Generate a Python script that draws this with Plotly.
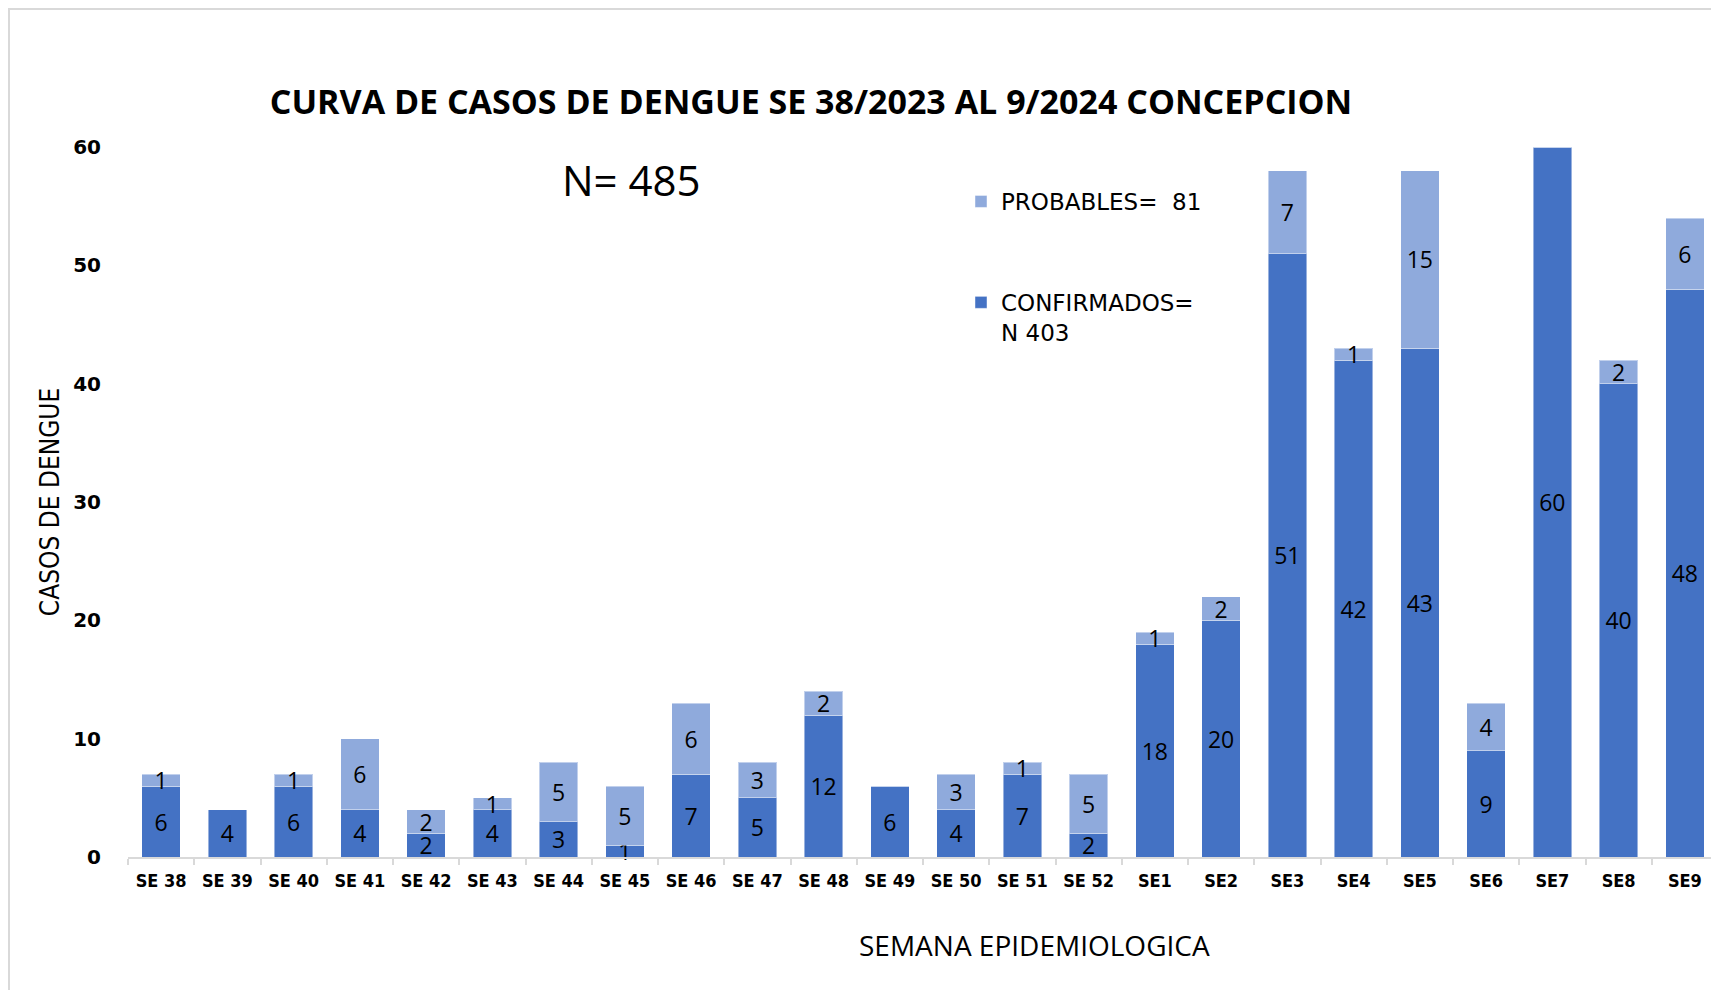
import plotly.graph_objects as go

semanas = ["SE 38", "SE 39", "SE 40", "SE 41", "SE 42", "SE 43", "SE 44", "SE 45",
           "SE 46", "SE 47", "SE 48", "SE 49", "SE 50", "SE 51", "SE 52",
           "SE1", "SE2", "SE3", "SE4", "SE5", "SE6", "SE7", "SE8", "SE9"]
confirmados = [6, 4, 6, 4, 2, 4, 3, 1, 7, 5, 12, 6, 4, 7, 2,
               18, 20, 51, 42, 43, 9, 60, 40, 48]
probables = [1, 0, 1, 6, 2, 1, 5, 5, 6, 3, 2, 0, 3, 1, 5,
             1, 2, 7, 1, 15, 4, 0, 2, 6]

titulo = "CURVA DE CASOS DE DENGUE SE 38/2023 AL 9/2024 CONCEPCION"
nombre_conf = "CONFIRMADOS=<br>N 403"
nombre_prob = "PROBABLES=  81"
total_txt = "N= 485"
titulo_x = "SEMANA EPIDEMIOLOGICA"
titulo_y = "CASOS DE DENGUE"

# page has an 8px body margin: figure drawn at (8, 8)
OFF = 8
W, H = 1719 - OFF, 990 - OFF
PL, PR, PT, PB = 128, 1718, 147, 857   # plot box in reference pixels
L, T = PL - OFF, PT - OFF
R, B = W - (PR - OFF), H - (PB - OFF)
pw, ph = PR - PL, PB - PT

def px_x(x):
    return (x - PL) / pw

def px_y(y):
    return (PB - y) / ph

COND = "DejaVu Sans Condensed, Open Sans, sans-serif"
label_font = dict(family="Open Sans", size=23, color="black")

fig = go.Figure()
fig.add_trace(go.Bar(
    x=semanas, y=confirmados, name=nombre_conf, legendrank=2, cliponaxis=False,
    marker=dict(color="#4472C4", line=dict(color="rgba(255,255,255,0.45)", width=1)),
    text=[str(v) if v else "" for v in confirmados],
    textposition="inside", insidetextanchor="middle", textangle=0,
    textfont=label_font, legendgroup="c",
))
fig.add_trace(go.Bar(
    x=semanas, y=probables, name=nombre_prob, legendrank=1, cliponaxis=False,
    marker=dict(color="#8FAADC", line=dict(color="rgba(255,255,255,0.45)", width=1)),
    text=[str(v) if v else "" for v in probables],
    textposition="inside", insidetextanchor="middle", textangle=0,
    textfont=label_font, legendgroup="p",
))

fig.update_layout(
    width=W, height=H,
    margin=dict(l=L, r=R, t=T, b=B),
    barmode="stack", bargap=0.42,
    plot_bgcolor="white", paper_bgcolor="white",
    uniformtext=dict(minsize=23, mode="show"),
    title=dict(text="<b>" + titulo + "</b>", x=(811 - OFF) / W, xanchor="center",
               y=1 - (102 - OFF) / H, yanchor="middle", yref="container",
               font=dict(family="Open Sans", size=34, color="black")),
    showlegend=True,
    legend=dict(x=px_x(961), y=px_y(180), xanchor="left", yanchor="top",
                traceorder="grouped", tracegroupgap=68, valign="top",
                itemwidth=30, bgcolor="rgba(0,0,0,0)",
                font=dict(family="DejaVu Sans", size=23, color="black")),
    xaxis=dict(
        type="category", tickson="boundaries", ticks="outside", ticklen=6,
        tickcolor="#D9D9D9", tickwidth=2, showline=True, linecolor="#D9D9D9",
        linewidth=2, showgrid=False, ticklabelstandoff=6,
        tickfont=dict(family=COND, size=18, color="black", weight="bold"),
    ),
    yaxis=dict(
        range=[0, 60], dtick=10, showgrid=False, showline=False, zeroline=False,
        ticks="outside", ticklen=22, tickcolor="rgba(0,0,0,0)",
        tickfont=dict(family="DejaVu Sans", size=20, color="black", weight="bold"),
        title=dict(text=titulo_y, standoff=6,
                   font=dict(family=COND, size=26, color="black")),
    ),
    annotations=[
        dict(text=total_txt, x=px_x(631), y=px_y(179), xref="paper", yref="paper",
             xanchor="center", yanchor="middle", showarrow=False,
             font=dict(family="Open Sans", size=42, color="black")),
        dict(text=titulo_x, x=px_x(1034), y=px_y(945), xref="paper", yref="paper",
             xanchor="center", yanchor="middle", showarrow=False,
             font=dict(family="Open Sans", size=28, color="black")),
    ],
    shapes=[dict(type="rect", xref="paper", yref="paper",
                 x0=px_x(9), x1=px_x(1760), y0=px_y(1040), y1=px_y(9),
                 line=dict(color="#D9D9D9", width=2), layer="below")],
)

fig.write_html("out.html")
